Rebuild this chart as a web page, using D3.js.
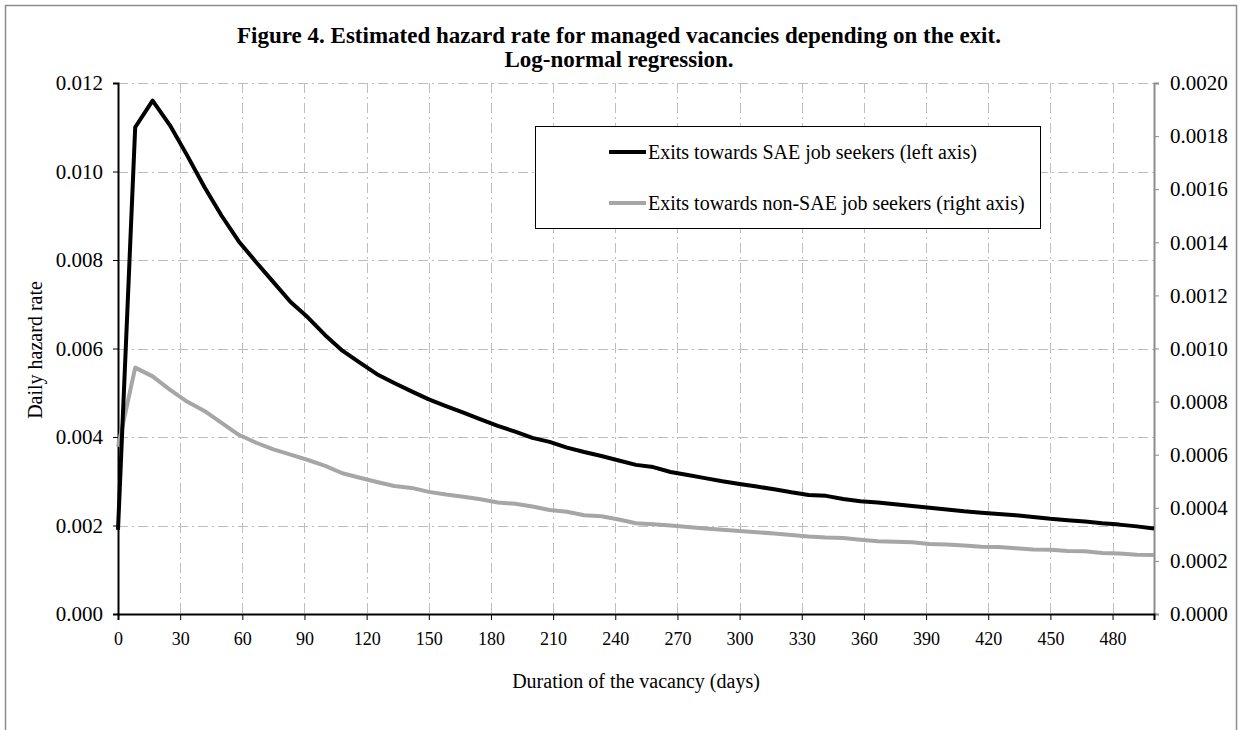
<!DOCTYPE html>
<html>
<head>
<meta charset="utf-8">
<script src="https://cdn.jsdelivr.net/npm/d3@7"></script>
<style>
  html, body { margin: 0; padding: 0; background: #fff; }
  svg { display: block; }
  text { font-family: "Liberation Serif", "Times New Roman", serif; fill: #000; }
</style>
</head>
<body>
<svg id="chart" width="1241" height="730"></svg>
<script>
// Duration of the vacancy (days) at which each hazard was evaluated
const days = [0,8.3,16.7,25,33.3,41.7,50,58.3,66.7,75,83.3,91.7,100,108.3,116.7,125,133.3,141.7,150,158.3,
  166.7,175,183.3,191.7,200,208.3,216.7,225,233.3,241.7,250,258.3,266.7,275,283.3,291.7,300,308.3,316.7,325,
  333.3,341.7,350,358.3,366.7,375,383.3,391.7,400,408.3,416.7,425,433.3,441.7,450,458.3,466.7,475,483.3,491.7,500];

// Exits towards SAE job seekers (left axis)
const saeHazard = [0.0019,0.0110,0.0116,0.01105,0.01037,0.00965,0.0090,0.00842,0.00795,0.0075,0.00705,0.0067,
  0.0063,0.00595,0.00568,0.00542,0.00522,0.00503,0.00485,0.0047,0.00455,0.0044,0.00425,0.00412,0.00398,0.00389,
  0.00376,0.00366,0.00357,0.00347,0.00337,0.00332,0.00321,0.00314,0.00307,0.0030,0.00294,0.00288,0.00282,0.00275,
  0.00269,0.00267,0.0026,0.00255,0.00252,0.00248,0.00244,0.0024,0.00236,0.00232,0.00229,0.00226,0.00223,0.00219,
  0.00215,0.00212,0.00209,0.00205,0.00202,0.00198,0.00193];

// Exits towards non-SAE job seekers (right axis)
const nonSaeHazard = [0.00063,0.000928,0.000895,0.000845,0.0008,0.000765,0.00072,0.000675,0.000645,0.00062,0.0006,
  0.00058,0.000558,0.00053,0.000513,0.000497,0.000482,0.000475,0.00046,0.00045,0.000442,0.000432,0.00042,0.000415,
  0.000405,0.000392,0.000385,0.000372,0.000368,0.000356,0.000342,0.000338,0.000333,0.000328,0.000322,0.000317,
  0.000313,0.000308,0.000303,0.000298,0.000292,0.000288,0.000286,0.00028,0.000274,0.000272,0.00027,0.000264,
  0.000262,0.000258,0.000253,0.000252,0.000248,0.000243,0.000242,0.000237,0.000236,0.00023,0.000228,0.000223,0.000222];

const xTicks = [0,30,60,90,120,150,180,210,240,270,300,330,360,390,420,450,480];
const leftTicks = [0,0.002,0.004,0.006,0.008,0.010,0.012];
const rightTicks = [0,0.0002,0.0004,0.0006,0.0008,0.0010,0.0012,0.0014,0.0016,0.0018,0.0020];

const titleLines = ["Figure 4. Estimated hazard rate for managed vacancies depending on the exit.",
                    "Log-normal regression."];
const legendLabels = ["Exits towards SAE job seekers (left axis)",
                      "Exits towards non-SAE job seekers (right axis)"];

const svg = d3.select("#chart");
const plot = { left: 118, right: 1154, top: 83, bottom: 614 };

const x = d3.scaleLinear().domain([0, 500]).range([plot.left, plot.right]);
const yL = d3.scaleLinear().domain([0, 0.012]).range([plot.bottom, plot.top]);
const yR = d3.scaleLinear().domain([0, 0.002]).range([plot.bottom, plot.top]);

// Outer frame
svg.append("rect")
  .attr("x", 5.5).attr("y", 5.5).attr("width", 1231).attr("height", 760)
  .attr("fill", "none").attr("stroke", "#8c8c8c").attr("stroke-width", 1.5);

// Title
svg.append("g").selectAll("text").data(titleLines).join("text")
  .attr("x", 619).attr("y", (d, i) => 43 + i * 24)
  .attr("text-anchor", "middle")
  .style("font-size", "23px").style("font-weight", "bold")
  .text(d => d);

// Gridlines
const grid = svg.append("g").attr("stroke", "#bdbdbd").attr("stroke-width", 1)
  .attr("stroke-dasharray", "10,4,2,4").attr("fill", "none");
grid.selectAll("line.h").data(leftTicks.filter(d => d > 0)).join("line")
  .attr("class", "h")
  .attr("x1", plot.left).attr("x2", plot.right)
  .attr("y1", d => Math.round(yL(d)) + 0.5).attr("y2", d => Math.round(yL(d)) + 0.5);
grid.selectAll("line.v").data(xTicks.filter(d => d > 0)).join("line")
  .attr("class", "v")
  .attr("y1", plot.top).attr("y2", plot.bottom)
  .attr("x1", d => Math.round(x(d)) + 0.5).attr("x2", d => Math.round(x(d)) + 0.5);

// Axes
const fmtL = d3.format(".3f"), fmtR = d3.format(".4f");

const gLeft = svg.append("g").attr("transform", `translate(${plot.left},0)`)
  .call(d3.axisLeft(yL).tickValues(leftTicks).tickFormat(fmtL).tickSize(5).tickPadding(10));
const gRight = svg.append("g").attr("transform", `translate(${plot.right},0)`)
  .call(d3.axisRight(yR).tickValues(rightTicks).tickFormat(fmtR).tickSize(5).tickPadding(11));
const gBottom = svg.append("g").attr("transform", `translate(0,${plot.bottom})`)
  .call(d3.axisBottom(x).tickValues(xTicks).tickFormat(d3.format("d")).tickSize(6).tickPadding(12));

[gLeft, gRight, gBottom].forEach(g => {
  g.selectAll("text").style("font-family", "'Liberation Serif', serif").style("font-size", "21px").attr("fill", "#000");
});
gLeft.select(".domain").attr("stroke", "#000").attr("stroke-width", 2);
gLeft.selectAll(".tick line").attr("stroke", "#000");
gRight.select(".domain").attr("stroke", "#8c8c8c").attr("stroke-width", 2);
gRight.selectAll(".tick line").attr("stroke", "#8c8c8c");
gBottom.select(".domain").attr("stroke", "#000").attr("stroke-width", 2);
gBottom.selectAll(".tick line").attr("stroke", "#000");
gBottom.selectAll("text").style("font-size", "18px");

// Axis titles
svg.append("text")
  .attr("x", 636).attr("y", 688).attr("text-anchor", "middle")
  .style("font-size", "20px").text("Duration of the vacancy (days)");
svg.append("text")
  .attr("transform", "translate(42,350) rotate(-90)").attr("text-anchor", "middle")
  .style("font-size", "20px").text("Daily hazard rate");

// Series
const lineL = d3.line().x((d, i) => x(days[i])).y(d => yL(d));
const lineR = d3.line().x((d, i) => x(days[i])).y(d => yR(d));

svg.append("path").datum(nonSaeHazard)
  .attr("d", lineR).attr("fill", "none").attr("stroke", "#a6a6a6")
  .attr("stroke-width", 4).attr("stroke-linejoin", "round");
svg.append("path").datum(saeHazard)
  .attr("d", lineL).attr("fill", "none").attr("stroke", "#000")
  .attr("stroke-width", 4).attr("stroke-linejoin", "round");

// Legend
const legend = svg.append("g");
legend.append("rect")
  .attr("x", 535.5).attr("y", 126.5).attr("width", 505).attr("height", 102)
  .attr("fill", "#fff").attr("stroke", "#000").attr("stroke-width", 1);
const legendColors = ["#000", "#a6a6a6"];
legendLabels.forEach((label, i) => {
  const cy = 152 + i * 51;
  legend.append("line")
    .attr("x1", 609).attr("x2", 646).attr("y1", cy).attr("y2", cy)
    .attr("stroke", legendColors[i]).attr("stroke-width", 4);
  legend.append("text")
    .attr("x", 648).attr("y", cy + 7)
    .style("font-size", "20px").text(label);
});
</script>
</body>
</html>
